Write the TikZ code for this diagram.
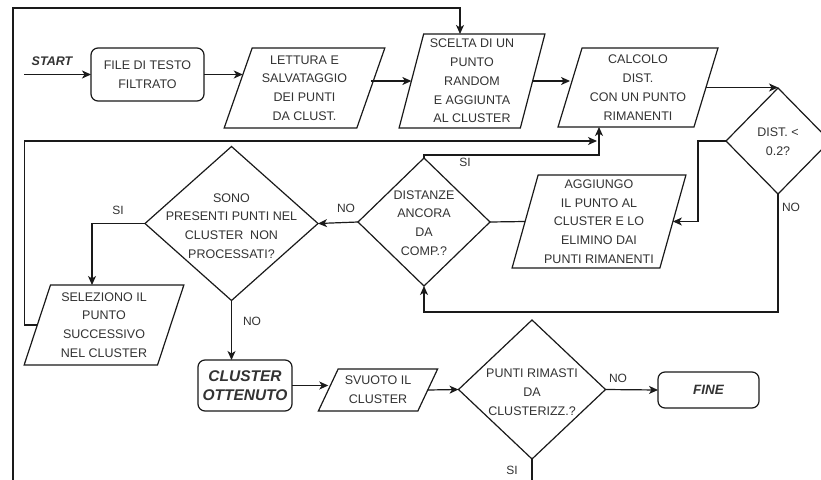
\documentclass[tikz,border=0pt]{standalone}
\usepackage{fontspec}
\setmainfont{Liberation Sans}
\usetikzlibrary{shapes.geometric,arrows.meta,calc}
\definecolor{txtc}{HTML}{333333}
\definecolor{linec}{HTML}{1A1A1A}
\tikzset{
  base/.style={draw=linec, line width=1.2pt, inner sep=0pt, outer sep=0pt},
  txt/.style={text=txtc, font=\fontsize{12.5}{18.8}\selectfont, align=center, inner sep=0pt},
  btxt/.style={text=txtc, font=\fontsize{15.5}{19}\selectfont\bfseries\itshape, align=center, inner sep=0pt},
  rbox/.style={base, txt, rectangle, rounded corners=7pt},
  para/.style 2 args={base, txt, trapezium, trapezium stretches=true,
    trapezium left angle=#1, trapezium right angle=#2},
  dia/.style={base, diamond},
  lbl/.style={text=txtc, font=\fontsize{12}{14}\selectfont, inner sep=0pt},
  arr/.style={draw=linec, line width=1.2pt, -{Stealth[length=9pt,width=8pt,inset=2.5pt]}},
  ln/.style={draw=linec, line width=1.2pt},
}
\begin{document}
\begin{tikzpicture}[x=1pt,y=-1pt]
\clip (0,0) rectangle (821,479);
\fill[white] (0,0) rectangle (821,479);

% boxes
\node[rbox, minimum width=113, minimum height=53] (file) at (147.5,74.5) {FILE DI TESTO\\FILTRATO};
\node[para={70.7}{109.3}, minimum width=161, minimum height=80] (lett) at (304.5,88)
  {LETTURA E\\SALVATAGGIO\\DEI PUNTI\\DA CLUST.};
\node[para={75.7}{104.3}, minimum width=146, minimum height=94] (scel) at (472,81)
  {SCELTA DI UN\\PUNTO\\RANDOM\\E AGGIUNTA\\AL CLUSTER};
\node[para={72.4}{107.6}, minimum width=160, minimum height=79] (calc) at (638,87.5)
  {CALCOLO\\DIST.\\CON UN PUNTO\\RIMANENTI};
\node[dia, minimum width=104, minimum height=106] (dist) at (778,141) {};
\node[txt] (distt) at (778,142) {DIST. <\\0.2?};
\node[para={74.4}{105.6}, minimum width=174, minimum height=93] (aggi) at (599,221.5)
  {AGGIUNGO\\IL PUNTO AL\\CLUSTER E LO\\ELIMINO DAI\\PUNTI RIMANENTI};
\node[dia, minimum width=132, minimum height=128] (dcomp) at (424,222) {};
\node[txt] (dcompt) at (424,223) {DISTANZE\\ANCORA\\DA\\COMP.?};
\node[dia, minimum width=173, minimum height=154] (sono) at (231.5,223.5) {};
\node[txt] (sonot) at (231.5,226) {SONO\\PRESENTI PUNTI NEL\\CLUSTER\ \ NON\\PROCESSATI?};
\node[para={72}{108}, minimum width=160, minimum height=80] (sele) at (104,325)
  {SELEZIONO IL\\PUNTO\\SUCCESSIVO\\NEL CLUSTER};
\node[rbox, btxt, minimum width=94, minimum height=51] (clus) at (245,385.5) {CLUSTER\\OTTENUTO};
\node[para={59.2}{120.8}, minimum width=120, minimum height=42] (svuo) at (378,390)
  {SVUOTO IL\\CLUSTER};
\node[dia, minimum width=147, minimum height=139] (punti) at (532,389.5) {};
\node[txt] (puntit) at (532,392) {PUNTI RIMASTI\\DA\\CLUSTERIZZ.?};
\node[rbox, minimum width=101, minimum height=36] (fine) at (708.5,390)
  {\fontsize{13.5}{16}\selectfont\bfseries\itshape FINE};

% free ends
\coordinate (st) at (24,74.5);
\coordinate (frb) at (13,490);
\coordinate (frt) at (13,8);
\coordinate (low) at (0,312);
\coordinate (loopend) at (597,141);
\coordinate (bot) at (532,490);

% labels
\node[lbl, font=\fontsize{12.5}{14}\selectfont\bfseries\itshape] (startl) at (52,61) {START};
\node[lbl] (l1) at (465,162) {SI};
\node[lbl] (l2) at (791,207) {NO};
\node[lbl] (l3) at (346,208) {NO};
\node[lbl] (l4) at (118,210) {SI};
\node[lbl] (l5) at (252,321) {NO};
\node[lbl] (l6) at (618,378) {NO};
\node[lbl] (l7) at (512,470) {SI};

% connectors
\draw[arr] (st) -- (file.west);
\draw[arr] (file.east) -- (file.east -| lett.168);
\draw[arr] (scel.west -| lett.east) -- (scel.west);
\draw[arr] (scel.east) -- (scel.east -| calc.west);
\draw[arr] (calc.east) -- (calc.east -| dist.north);
\draw[arr] (dist.west) -- ++(-28,0) |- (aggi.east);
\draw[arr] (dist.south) -- (dist.south |- low) -| (dcomp.south);
\draw[ln] (dcomp.east) -- (aggi.west);
\draw[arr] (dcomp.north) -- ++(0,-3) -| ($(calc.south)+(-39,0)$);
\draw[arr] (sele.west) -- ++(-13,0) |- (loopend);
\draw[arr] (sono.west) -| ([xshift=-12pt]sele.north);
\draw[arr] (sono.south) -- (sono.south |- clus.north);
\draw[arr] (dcomp.west) -- (sono.east);
\draw[arr] (clus.east) -- (clus.east -| svuo.west);
\draw[arr] (svuo.east) -- (punti.west);
\draw[arr] (punti.east) -- (fine.west);
\draw[ln] (punti.south) -- (bot);
\draw[arr] (frb) -- (frt) -| ([xshift=-12pt]scel.north);
\end{tikzpicture}
\end{document}
